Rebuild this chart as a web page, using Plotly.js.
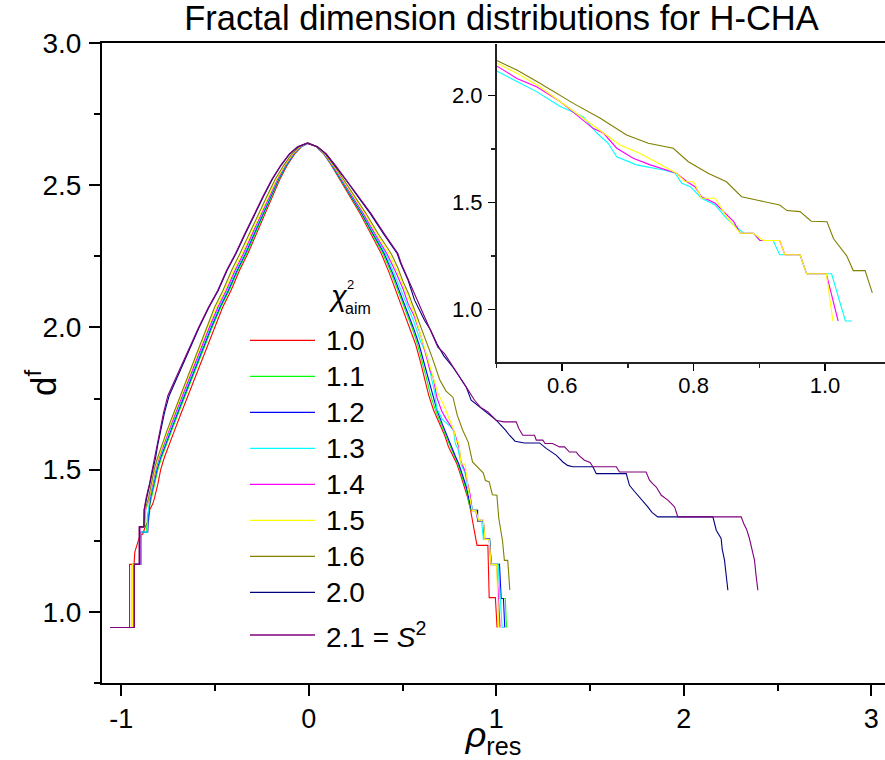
<!DOCTYPE html>
<html><head><meta charset="utf-8">
<script src="https://cdn.plot.ly/plotly-3.0.1.min.js"></script>
<style>html,body{margin:0;padding:0;background:#fff}</style>
</head><body><div id="chart" style="width:885px;height:760px"></div>
<script>
// ---------- data (ρ_res on x, d^f on y) ----------
const seriesNames = ['1.0','1.1','1.2','1.3','1.4','1.5','1.6','2.0','2.1 = <i>S</i><sup>2</sup>'];
const seriesColors = ['#ff0000','#00ff00','#0000ff','#00ffff','#ff00ff','#ffff00','#808000','#000080','#800080'];
const insetSeries = [3,4,5,6];   // 1.3, 1.4, 1.5, 1.6 shown in the inset

const xTickVals = [-1,0,1,2,3];
const xTickLabels = ['-1','0','1','2','3'];

// shared d^f levels of the smooth left flank and of the upper right flank
const leftLevels = [1.40,1.45,1.50,1.54,1.59,1.64,1.70,1.76,1.82,1.88,1.94,2.00,2.07,2.13,2.20,2.26,2.33,2.40,2.46,2.52,2.57,2.61,2.635,2.648];
const rightTopLevels = [2.635,2.61,2.57,2.52,2.46,2.40,2.33,2.26];

// lower-left staircase of each curve
const stepX_10 = [-1.06,-0.956,-0.956,-0.932,-0.928,-0.915,-0.905,-0.885,-0.872,-0.855,-0.848,-0.832];
const stepY_10 = [0.945,0.945,1.167,1.167,1.21,1.235,1.26,1.275,1.30,1.32,1.36,1.38];
const stepX_11 = [-1.06,-0.942,-0.942,-0.90,-0.90,-0.866,-0.86,-0.85];
const stepY_11 = [0.945,0.945,1.167,1.167,1.28,1.28,1.34,1.37];
const stepX_12 = [-1.06,-0.935,-0.935,-0.894,-0.894,-0.859,-0.855,-0.85];
const stepY_12 = [0.945,0.945,1.167,1.167,1.281,1.281,1.34,1.37];
const stepX_13 = [-1.06,-0.935,-0.935,-0.894,-0.894,-0.862,-0.858,-0.852];
const stepY_13 = [0.945,0.945,1.167,1.167,1.281,1.281,1.34,1.37];
const stepX_14 = [-1.06,-0.938,-0.938,-0.90,-0.90,-0.876,-0.87,-0.86];
const stepY_14 = [0.945,0.945,1.167,1.167,1.30,1.30,1.36,1.38];
const stepX_15 = [-1.06,-0.94,-0.94,-0.903,-0.903,-0.876,-0.872,-0.862];
const stepY_15 = [0.945,0.945,1.167,1.167,1.299,1.299,1.36,1.38];
const stepX_16 = [-1.06,-0.932,-0.932,-0.903,-0.903,-0.878,-0.874,-0.865];
const stepY_16 = [0.945,0.945,1.167,1.167,1.299,1.299,1.36,1.38];
const stepX_20 = [-1.06,-0.93,-0.93,-0.903,-0.903,-0.88,-0.878,-0.872];
const stepY_20 = [0.945,0.945,1.167,1.167,1.299,1.299,1.36,1.38];
const stepX_21 = [-1.06,-0.93,-0.93,-0.905,-0.905,-0.88,-0.878,-0.873];
const stepY_21 = [0.945,0.945,1.167,1.167,1.299,1.299,1.36,1.38];

// left flank ρ at leftLevels
const leftX_10 = [-0.823,-0.805,-0.79,-0.772,-0.745,-0.715,-0.68,-0.645,-0.61,-0.575,-0.54,-0.505,-0.46,-0.415,-0.37,-0.325,-0.28,-0.234,-0.195,-0.155,-0.115,-0.075,-0.04,0.0];
const leftX_11 = [-0.84,-0.822,-0.805,-0.787,-0.76,-0.73,-0.695,-0.66,-0.623,-0.588,-0.552,-0.516,-0.47,-0.425,-0.378,-0.332,-0.286,-0.24,-0.2,-0.16,-0.118,-0.078,-0.042,-0.002];
const leftX_12 = [-0.845,-0.827,-0.81,-0.792,-0.765,-0.735,-0.70,-0.665,-0.628,-0.593,-0.557,-0.521,-0.475,-0.43,-0.383,-0.338,-0.291,-0.244,-0.204,-0.163,-0.12,-0.08,-0.043,-0.003];
const leftX_13 = [-0.848,-0.83,-0.814,-0.796,-0.77,-0.74,-0.705,-0.67,-0.633,-0.598,-0.562,-0.526,-0.48,-0.435,-0.388,-0.343,-0.296,-0.248,-0.207,-0.166,-0.123,-0.082,-0.045,-0.004];
const leftX_14 = [-0.85,-0.833,-0.817,-0.8,-0.774,-0.745,-0.71,-0.675,-0.638,-0.603,-0.567,-0.531,-0.486,-0.441,-0.394,-0.349,-0.301,-0.253,-0.211,-0.169,-0.126,-0.084,-0.046,-0.005];
const leftX_15 = [-0.852,-0.836,-0.82,-0.803,-0.778,-0.75,-0.716,-0.681,-0.645,-0.61,-0.575,-0.54,-0.494,-0.449,-0.402,-0.356,-0.308,-0.259,-0.216,-0.173,-0.129,-0.087,-0.048,-0.006];
const leftX_16 = [-0.855,-0.84,-0.825,-0.808,-0.782,-0.755,-0.72,-0.685,-0.65,-0.616,-0.582,-0.548,-0.503,-0.458,-0.412,-0.367,-0.318,-0.268,-0.224,-0.18,-0.134,-0.091,-0.05,-0.007];
const leftX_20 = [-0.865,-0.848,-0.832,-0.818,-0.805,-0.79,-0.77,-0.745,-0.705,-0.665,-0.625,-0.585,-0.533,-0.483,-0.436,-0.388,-0.338,-0.288,-0.242,-0.195,-0.148,-0.102,-0.058,-0.008];
const leftX_21 = [-0.868,-0.85,-0.835,-0.822,-0.808,-0.795,-0.775,-0.752,-0.712,-0.67,-0.628,-0.588,-0.536,-0.486,-0.439,-0.391,-0.341,-0.29,-0.245,-0.198,-0.15,-0.104,-0.06,-0.01];

// upper right flank ρ at rightTopLevels
const rightX_10 = [0.04,0.08,0.12,0.165,0.22,0.274,0.33,0.386];
const rightX_11 = [0.04,0.081,0.122,0.168,0.224,0.28,0.337,0.395];
const rightX_12 = [0.041,0.082,0.124,0.17,0.227,0.284,0.342,0.402];
const rightX_13 = [0.042,0.083,0.126,0.173,0.23,0.288,0.347,0.409];
const rightX_14 = [0.042,0.084,0.128,0.176,0.234,0.292,0.352,0.416];
const rightX_15 = [0.043,0.086,0.131,0.18,0.24,0.299,0.36,0.427];
const rightX_16 = [0.044,0.088,0.134,0.185,0.246,0.306,0.369,0.439];
const rightX_20 = [0.046,0.092,0.14,0.196,0.262,0.328,0.398,0.471];
const rightX_21 = [0.046,0.093,0.142,0.198,0.265,0.332,0.402,0.475];

// lower right flank and tail
const tailX_10 = [0.43,0.47,0.505,0.54,0.57,0.595,0.618,0.64,0.665,0.70,0.725,0.745,0.768,0.79,0.81,0.83,0.848,0.862,0.872,0.884,0.897,0.955,0.962,0.995,1.004];
const tailY_10 = [2.19,2.12,2.06,2.00,1.94,1.88,1.82,1.76,1.71,1.66,1.62,1.58,1.55,1.52,1.48,1.44,1.40,1.36,1.32,1.28,1.234,1.234,1.05,1.05,0.945];
const tailX_11 = [0.44,0.48,0.515,0.55,0.58,0.605,0.628,0.65,0.675,0.705,0.73,0.752,0.775,0.795,0.815,0.835,0.85,0.858,0.866,0.90,0.90,0.93,0.937,0.964,0.973,1.013,1.02,1.048,1.054];
const tailY_11 = [2.19,2.12,2.06,2.00,1.94,1.88,1.82,1.76,1.71,1.66,1.62,1.58,1.55,1.52,1.48,1.44,1.40,1.37,1.357,1.357,1.32,1.32,1.258,1.258,1.167,1.167,1.047,1.047,0.945];
const tailX_12 = [0.447,0.488,0.522,0.557,0.588,0.613,0.637,0.66,0.683,0.712,0.737,0.758,0.78,0.80,0.82,0.84,0.853,0.862,0.868,0.90,0.90,0.93,0.937,0.964,0.973,1.017,1.026,1.038,1.045];
const tailY_12 = [2.19,2.12,2.06,2.00,1.94,1.88,1.82,1.76,1.71,1.66,1.62,1.58,1.55,1.52,1.48,1.44,1.40,1.37,1.357,1.357,1.32,1.32,1.258,1.258,1.167,1.167,1.047,1.047,0.945];
const tailX_13 = [0.455,0.502,0.531,0.561,0.597,0.632,0.653,0.670,0.683,0.713,0.754,0.772,0.782,0.795,0.812,0.833,0.850,0.876,0.891,0.901,0.921,0.931,0.962,0.972,1.010,1.031,1.041];
const tailY_13 = [2.19,2.112,2.066,2.019,1.949,1.902,1.824,1.777,1.714,1.676,1.652,1.637,1.590,1.574,1.520,1.488,1.426,1.356,1.356,1.322,1.322,1.255,1.255,1.166,1.166,0.945,0.945];
const tailX_14 = [0.46,0.502,0.531,0.561,0.597,0.622,0.647,0.663,0.683,0.708,0.734,0.774,0.790,0.802,0.812,0.833,0.861,0.871,0.891,0.901,0.931,0.939,0.962,0.972,1.002,1.020];
const tailY_14 = [2.20,2.136,2.081,2.042,1.972,1.910,1.847,1.824,1.754,1.707,1.676,1.637,1.597,1.574,1.527,1.496,1.410,1.356,1.356,1.322,1.322,1.255,1.255,1.166,1.166,0.945];
const tailX_15 = [0.47,0.502,0.531,0.566,0.607,0.642,0.663,0.688,0.718,0.754,0.774,0.787,0.800,0.812,0.833,0.850,0.871,0.891,0.906,0.931,0.939,0.962,0.972,1.002,1.012];
const tailY_15 = [2.20,2.152,2.105,2.042,1.949,1.871,1.824,1.769,1.730,1.668,1.637,1.597,1.597,1.520,1.520,1.434,1.356,1.356,1.322,1.322,1.255,1.255,1.166,1.166,0.945];
const tailX_16 = [0.475,0.502,0.531,0.566,0.617,0.658,0.698,0.731,0.769,0.792,0.822,0.850,0.873,0.901,0.931,0.942,0.962,0.979,1.003,1.013,1.033,1.043,1.061,1.072];
const tailY_16 = [2.21,2.162,2.120,2.058,1.964,1.894,1.816,1.777,1.754,1.691,1.637,1.597,1.527,1.508,1.488,1.462,1.457,1.412,1.410,1.330,1.250,1.181,1.181,1.077];
const tailX_20 = [0.49,0.53,0.564,0.617,0.65,0.683,0.72,0.768,0.80,0.839,0.866,0.91,0.946,0.999,1.049,1.07,1.10,1.15,1.231,1.266,1.319,1.355,1.38,1.408,1.515,1.533,1.693,1.710,1.735,1.755,1.78,1.808,1.83,1.861,2.155,2.173,2.199,2.205,2.217,2.225,2.235];
const tailY_20 = [2.225,2.165,2.096,2.025,1.99,1.943,1.90,1.861,1.83,1.791,1.744,1.72,1.703,1.674,1.639,1.621,1.60,1.594,1.594,1.575,1.551,1.527,1.515,1.510,1.510,1.486,1.486,1.445,1.425,1.410,1.393,1.369,1.35,1.334,1.334,1.287,1.258,1.22,1.182,1.13,1.076];
const tailX_21 = [0.493,0.533,0.573,0.613,0.653,0.688,0.724,0.768,0.80,0.839,0.884,0.915,0.955,0.999,1.04,1.106,1.12,1.141,1.204,1.213,1.248,1.26,1.30,1.337,1.364,1.39,1.426,1.44,1.47,1.50,1.515,1.64,1.657,1.799,1.817,1.835,1.853,1.88,1.915,1.935,1.951,1.968,2.306,2.32,2.335,2.35,2.365,2.377,2.385,2.395];
const tailY_21 = [2.225,2.165,2.107,2.05,1.99,1.931,1.908,1.861,1.83,1.791,1.744,1.72,1.703,1.674,1.668,1.668,1.645,1.621,1.621,1.604,1.604,1.592,1.592,1.580,1.580,1.562,1.562,1.55,1.533,1.525,1.510,1.510,1.492,1.492,1.463,1.45,1.439,1.41,1.393,1.38,1.369,1.334,1.334,1.31,1.29,1.258,1.22,1.182,1.13,1.076];

// ---------- assemble ----------
const stepX = [stepX_10,stepX_11,stepX_12,stepX_13,stepX_14,stepX_15,stepX_16,stepX_20,stepX_21];
const stepY = [stepY_10,stepY_11,stepY_12,stepY_13,stepY_14,stepY_15,stepY_16,stepY_20,stepY_21];
const leftX = [leftX_10,leftX_11,leftX_12,leftX_13,leftX_14,leftX_15,leftX_16,leftX_20,leftX_21];
const rightX = [rightX_10,rightX_11,rightX_12,rightX_13,rightX_14,rightX_15,rightX_16,rightX_20,rightX_21];
const tailX = [tailX_10,tailX_11,tailX_12,tailX_13,tailX_14,tailX_15,tailX_16,tailX_20,tailX_21];
const tailY = [tailY_10,tailY_11,tailY_12,tailY_13,tailY_14,tailY_15,tailY_16,tailY_20,tailY_21];

const curves = seriesNames.map((n,i)=>({
  x: [].concat(stepX[i], leftX[i], rightX[i], tailX[i]),
  y: [].concat(stepY[i], leftLevels, rightTopLevels, tailY[i])
}));

const FONT = 'Arial, "Liberation Sans", sans-serif';
const data = [];
curves.forEach((c,i)=>{
  data.push({type:'scatter', mode:'lines', x:c.x, y:c.y, name:seriesNames[i],
    line:{color:seriesColors[i], width:1.1}, xaxis:'x', yaxis:'y', hoverinfo:'skip'});
});
insetSeries.forEach(i=>{
  data.push({type:'scatter', mode:'lines', x:curves[i].x, y:curves[i].y, name:seriesNames[i],
    line:{color:seriesColors[i], width:1.1}, xaxis:'x2', yaxis:'y2', showlegend:false, hoverinfo:'skip'});
});

// ---------- layout ----------
const L = 102, T = 43, W = 783, H = 640;
const px2x = p => (p - L) / W;
const px2y = p => (T + H - p) / H;

const shapes = [], annotations = [];
seriesNames.forEach((n,i)=>{
  const yy = px2y(i < 8 ? 340.3 + 36*i : 635);
  shapes.push({type:'line', xref:'paper', yref:'paper', x0:px2x(250), x1:px2x(315), y0:yy, y1:yy,
    line:{color:seriesColors[i], width:1.3}});
  annotations.push({xref:'paper', yref:'paper', x:px2x(324), y:yy, xanchor:'left', yanchor:'middle',
    text:n, showarrow:false, font:{size:28, family:FONT, color:'#000'}});
});
// legend heading χ²_aim
annotations.push({xref:'paper', yref:'paper', x:px2x(338), y:px2y(296), xanchor:'center', yanchor:'middle',
  text:'<i>χ</i>', showarrow:false, font:{size:29, family:FONT, color:'#000'}});
annotations.push({xref:'paper', yref:'paper', x:px2x(350), y:px2y(284), xanchor:'center', yanchor:'middle',
  text:'2', showarrow:false, font:{size:13, family:FONT, color:'#000'}});
annotations.push({xref:'paper', yref:'paper', x:px2x(358), y:px2y(308), xanchor:'center', yanchor:'middle',
  text:'aim', showarrow:false, font:{size:16, family:FONT, color:'#000'}});
// y-axis title
annotations.push({xref:'paper', yref:'paper', x:px2x(41), y:px2y(383), xanchor:'center', yanchor:'middle',
  text:'d<sup>f</sup>', textangle:-90, showarrow:false, font:{size:35, family:FONT, color:'#000'}});

const axisCommon = {showgrid:false, zeroline:false, showline:true, linecolor:'#000', ticks:'outside', tickcolor:'#000'};

const layout = {
  width:885, height:760,
  margin:{l:L, r:0, t:T, b:760-T-H},
  paper_bgcolor:'#fff', plot_bgcolor:'#fff',
  showlegend:false,
  font:{family:FONT, color:'#000'},
  title:{text:'Fractal dimension distributions for H-CHA', font:{size:34.5, family:FONT, color:'#000'},
    xref:'paper', x:px2x(501.5), xanchor:'center', yref:'container', y:1-6/760, yanchor:'top'},
  xaxis:Object.assign({}, axisCommon, {domain:[0,1], range:[-1.103,3.073], tickmode:'array',
    tickvals:xTickVals, ticktext:xTickLabels, ticklen:11, tickwidth:2, linewidth:2, mirror:true,
    tickfont:{size:27, family:FONT, color:'#000'}, ticklabelstandoff:0,
    minor:{dtick:0.5, tick0:0, ticks:'outside', ticklen:6, tickwidth:2, tickcolor:'#000', showgrid:false},
    title:{text:'<i>ρ</i><sub>res</sub>', font:{size:36, family:FONT, color:'#000'}, standoff:0}}),
  yaxis:Object.assign({}, axisCommon, {domain:[0,1], range:[0.75,3.0], dtick:0.5, tick0:0, tickformat:'.1f',
    ticklen:11, tickwidth:2, linewidth:2, mirror:false, tickfont:{size:28, family:FONT, color:'#000'}, ticklabelstandoff:2,
    minor:{dtick:0.25, tick0:0, ticks:'outside', ticklen:6, tickwidth:2, tickcolor:'#000', showgrid:false}}),
  xaxis2:Object.assign({}, axisCommon, {domain:[px2x(496.5),1], anchor:'y2', range:[0.5,1.0913],
    dtick:0.2, tick0:0, tickformat:'.1f', ticklen:7, tickwidth:1.5, linewidth:1.5, linecolor:'#222',
    tickfont:{size:22, family:FONT, color:'#000'}, ticklabelstandoff:-4,
    minor:{dtick:0.1, tick0:0, ticks:'outside', ticklen:4, tickwidth:1.5, tickcolor:'#222', showgrid:false}}),
  yaxis2:Object.assign({}, axisCommon, {domain:[px2y(362), px2y(44.3)], anchor:'x2', range:[0.753,2.2406],
    dtick:0.5, tick0:0, tickformat:'.1f', ticklen:7, tickwidth:1.5, linewidth:1.5, linecolor:'#222',
    tickfont:{size:22, family:FONT, color:'#000'}, ticklabelstandoff:1,
    minor:{dtick:0.25, tick0:0, ticks:'outside', ticklen:4, tickwidth:1.5, tickcolor:'#222', showgrid:false}}),
  shapes:shapes,
  annotations:annotations
};

Plotly.newPlot('chart', data, layout, {staticPlot:true, displayModeBar:false});
</script></body></html>
